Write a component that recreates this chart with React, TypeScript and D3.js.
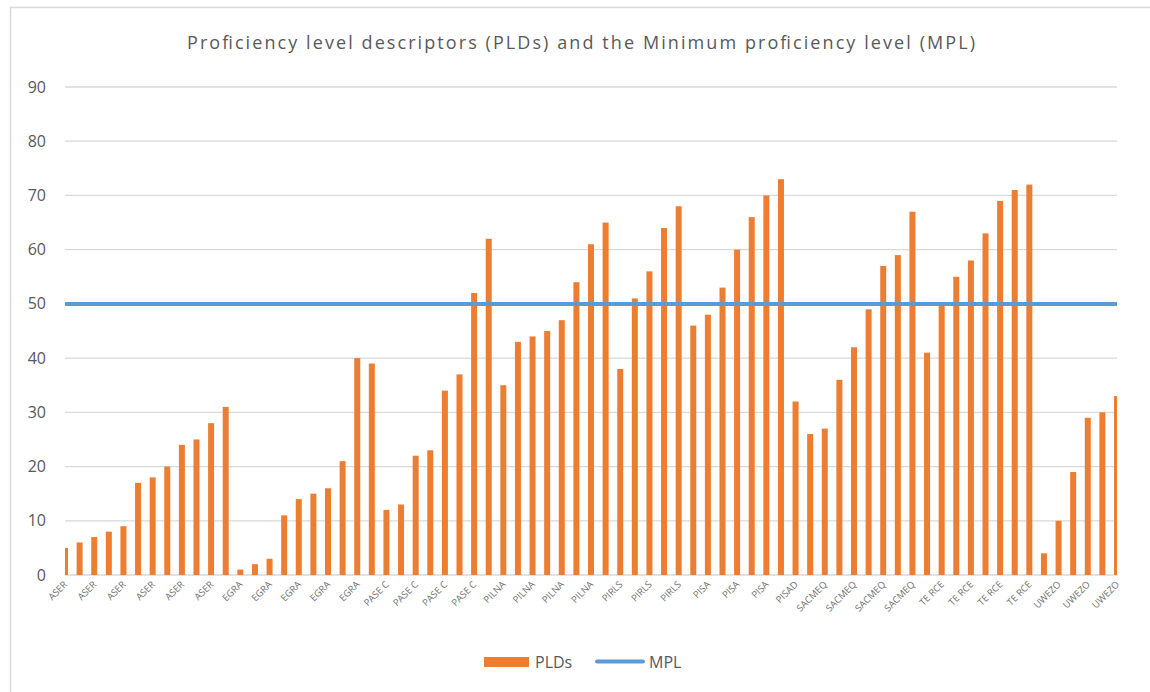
import * as d3 from 'd3';

// assessment label for every bar (only every other one is shown on the axis)
const categories = [
  'ASER', 'ASER', 'ASER', 'ASER', 'ASER', 'ASER', 'ASER', 'ASER', 'ASER', 'ASER', 'ASER', 'ASER',
  'EGRA', 'EGRA', 'EGRA', 'EGRA', 'EGRA', 'EGRA', 'EGRA', 'EGRA', 'EGRA', 'EGRA',
  'PASE C', 'PASE C', 'PASE C', 'PASE C', 'PASE C', 'PASE C', 'PASE C', 'PASE C',
  'PILNA', 'PILNA', 'PILNA', 'PILNA', 'PILNA', 'PILNA', 'PILNA', 'PILNA',
  'PIRLS', 'PIRLS', 'PIRLS', 'PIRLS', 'PIRLS', 'PIRLS',
  'PISA', 'PISA', 'PISA', 'PISA', 'PISA', 'PISA',
  'PISAD', 'PISAD',
  'SACMEQ', 'SACMEQ', 'SACMEQ', 'SACMEQ', 'SACMEQ', 'SACMEQ', 'SACMEQ', 'SACMEQ',
  'TE RCE', 'TE RCE', 'TE RCE', 'TE RCE', 'TE RCE', 'TE RCE', 'TE RCE', 'TE RCE',
  'UWEZO', 'UWEZO', 'UWEZO', 'UWEZO', 'UWEZO',
];

const plds = [
  5, 6, 7, 8, 9, 17, 18, 20, 24, 25, 28, 31,
  1, 2, 3, 11, 14, 15, 16, 21, 40, 39,
  12, 13, 22, 23, 34, 37, 52, 62,
  35, 43, 44, 45, 47, 54, 61, 65,
  38, 51, 56, 64, 68, 46,
  48, 53, 60, 66, 70, 73,
  32, 26,
  27, 36, 42, 49, 57, 59, 67, 41,
  50, 55, 58, 63, 69, 71, 72, 4,
  10, 19, 29, 30, 33,
];

const mpl = 50;
const yTicks = [0, 10, 20, 30, 40, 50, 60, 70, 80, 90];

const W = 1150;
const H = 692;
const grey = '#595959';
const fontFamily = '"Open Sans", "Liberation Sans", sans-serif';

export default function App() {
  const left = 65;
  const right = 1117;
  const top = 87;
  const bottom = 575;

  const idx = plds.map((_, i) => i);
  const x = d3.scalePoint<number>().domain(idx).range([left, right]).padding(0);
  const y = d3.scaleLinear().domain([0, 90]).range([bottom, top]);
  const barW = 6;

  return (
    <svg width={W} height={H} style={{ position: 'absolute', left: 0, top: 0, fontFamily }}>
      <defs>
        <clipPath id="plot">
          <rect x={left} y={0} width={right - left} height={bottom} />
        </clipPath>
      </defs>
      <rect x={0} y={0} width={W} height={H} fill="#fff" />
      <rect x={10.5} y={7.5} width={W + 20} height={H + 20} fill="none" stroke="#d9d9d9" strokeWidth={1.5} />

      <text x={581} y={49} textAnchor="middle" fontSize={18} fill={grey} textLength={788} lengthAdjust="spacing">
        Proficiency level descriptors (PLDs) and the Minimum proficiency level (MPL)
      </text>

      {yTicks.map(t => (
        <g key={t}>
          <line x1={left} x2={right} y1={y(t)} y2={y(t)} stroke="#d9d9d9" strokeWidth={1.3} />
          <text x={46} y={y(t)} dy="0.35em" textAnchor="end" fontSize={16} fill={grey}>{t}</text>
        </g>
      ))}

      <g clipPath="url(#plot)">
        {plds.map((v, i) => (
          <rect key={i} x={(x(i) ?? 0) - barW / 2} y={y(v)} width={barW} height={bottom - y(v)} fill="#ed7d31" />
        ))}
      </g>

      <line x1={left} x2={right} y1={y(mpl)} y2={y(mpl)} stroke="#5b9bd5" strokeWidth={4} />

      {idx.filter(i => i % 2 === 0).map(i => (
        <text
          key={i}
          transform={`translate(${(x(i) ?? 0) + 3},${bottom + 10}) rotate(-45)`}
          textAnchor="end"
          fontSize={9.5}
          fill="#6f6f6f"
        >
          {categories[i]}
        </text>
      ))}

      <rect x={484} y={657} width={45} height={10} fill="#ed7d31" />
      <text x={535} y={668} fontSize={16} fill={grey}>PLDs</text>
      <line x1={597} x2={643} y1={661.5} y2={661.5} stroke="#5b9bd5" strokeWidth={4} strokeLinecap="round" />
      <text x={649} y={668} fontSize={16} fill={grey}>MPL</text>
    </svg>
  );
}
